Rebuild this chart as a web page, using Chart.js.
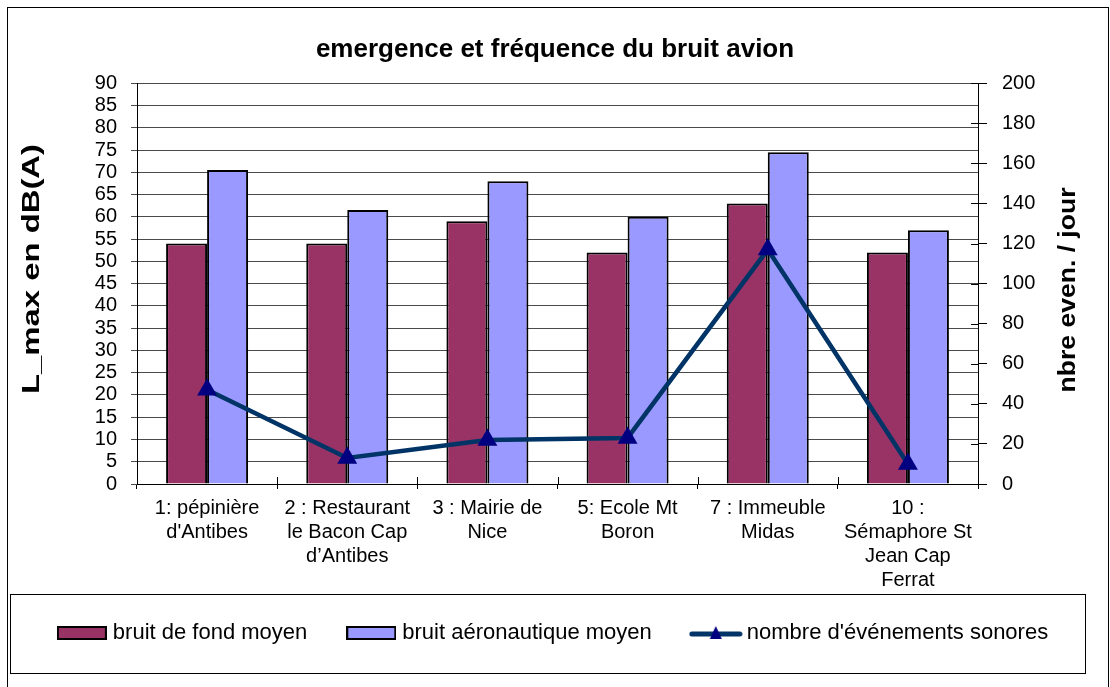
<!DOCTYPE html>
<html>
<head>
<meta charset="utf-8">
<script src="https://cdn.jsdelivr.net/npm/chart.js@4/dist/chart.umd.min.js"></script>
<style>
html,body{margin:0;padding:0;background:#fff;}
#wrap{width:1110px;height:687px;position:relative;}
canvas{display:block;}
</style>
</head>
<body>
<div id="wrap"><canvas id="c" width="1110" height="687"></canvas></div>
<script>
// ---- data ----
const categories = [
  ["1: pépinière", "d'Antibes"],
  ["2 : Restaurant", "le Bacon Cap", "d’Antibes"],
  ["3 : Mairie de", "Nice"],
  ["5: Ecole Mt", "Boron"],
  ["7 : Immeuble", "Midas"],
  ["10 :", "Sémaphore St", "Jean Cap", "Ferrat"]
];
const bruitFondMoyen = [54, 54, 59, 52, 63, 52];
const bruitAeronautiqueMoyen = [70.5, 61.5, 68, 60, 74.5, 57];
const nombreEvenements = [47, 13, 22, 23, 117, 10];
const seriesNames = ["bruit de fond moyen", "bruit aéronautique moyen", "nombre d'événements sonores"];
const chartTitle = "emergence et fréquence du bruit avion";
const leftAxisTitle = "L_max en dB(A)";
const rightAxisTitle = "nbre even. / jour";
const leftAxisRange = {min: 0, max: 90, step: 5};
const rightAxisRange = {min: 0, max: 200, step: 20};

const FONT = "'Liberation Sans', Arial, Helvetica, sans-serif";
Chart.defaults.font.family = FONT;
Chart.defaults.color = '#000';

const COL_FOND = '#993366';
const COL_AERO = '#9999FF';
const COL_LINE = '#003366';
const COL_MARK = '#000080';

// legend swatches
function barSwatch(fill) {
  const c = document.createElement('canvas');
  c.width = 50; c.height = 14;
  const g = c.getContext('2d');
  g.fillStyle = fill; g.fillRect(1, 1, 48, 12);
  g.strokeStyle = '#000'; g.lineWidth = 2; g.strokeRect(1, 1, 48, 12);
  return c;
}
function lineSwatch() {
  const c = document.createElement('canvas');
  c.width = 54; c.height = 18;
  const g = c.getContext('2d');
  g.strokeStyle = COL_LINE; g.lineWidth = 5; g.lineCap = 'round';
  g.beginPath(); g.moveTo(3, 10); g.lineTo(51, 10); g.stroke();
  g.fillStyle = COL_MARK;
  g.beginPath(); g.moveTo(27, 2); g.lineTo(33, 15); g.lineTo(21, 15); g.closePath(); g.fill();
  return c;
}
const swatches = [barSwatch(COL_FOND), barSwatch(COL_AERO), lineSwatch()];

function drawStretchedVertical(ctx, text, cx, cy, font, targetLen) {
  ctx.save();
  ctx.font = font;
  ctx.fillStyle = '#000';
  ctx.textAlign = 'center';
  ctx.textBaseline = 'middle';
  const w = ctx.measureText(text).width;
  ctx.translate(cx, cy);
  ctx.rotate(-Math.PI / 2);
  ctx.scale(targetLen / w, 1);
  ctx.fillText(text, 0, 0);
  ctx.restore();
}

const decor = {
  id: 'decor',
  beforeDraw(chart) {
    const ctx = chart.ctx;
    ctx.save();
    ctx.fillStyle = '#fff';
    ctx.fillRect(0, 0, chart.width, chart.height);
    ctx.strokeStyle = '#000';
    ctx.lineWidth = 1;
    ctx.strokeRect(7.5, 7.5, 1101, 700);
    ctx.restore();
  },
  afterDraw(chart) {
    const ctx = chart.ctx;
    const ca = chart.chartArea;
    // legend frame
    const lg = chart.legend;
    ctx.save();
    ctx.strokeStyle = '#000';
    ctx.lineWidth = 1;
    ctx.strokeRect(10.5, Math.round(lg.top + 16) + 0.5, 1075, 79);
    // inward tick marks on right axis and x axis
    const y1 = chart.scales.y1;
    ctx.strokeStyle = '#000';
    ctx.beginPath();
    y1.ticks.forEach(t => {
      const py = Math.round(y1.getPixelForValue(t.value)) + 0.5;
      ctx.moveTo(ca.right - 7, py); ctx.lineTo(ca.right, py);
    });
    for (let i = 0; i <= categories.length; i++) {
      const px = Math.round(ca.left + (ca.right - ca.left) * i / categories.length) + 0.5;
      ctx.moveTo(px, ca.bottom - 7); ctx.lineTo(px, ca.bottom);
    }
    ctx.stroke();
    ctx.restore();
    // axis titles
    drawStretchedVertical(ctx, leftAxisTitle, 33, 269, "bold 23px " + FONT, 250);
    drawStretchedVertical(ctx, rightAxisTitle, 1068, 290, "bold 24px " + FONT, 205);
  }
};

new Chart(document.getElementById('c'), {
  type: 'bar',
  data: {
    labels: categories,
    datasets: [
      {
        label: seriesNames[0], data: bruitFondMoyen, yAxisID: 'y', order: 1,
        backgroundColor: COL_FOND, borderColor: '#000', borderWidth: 2,
        categoryPercentage: 0.585, barPercentage: 1.0
      },
      {
        label: seriesNames[1], data: bruitAeronautiqueMoyen, yAxisID: 'y', order: 1,
        backgroundColor: COL_AERO, borderColor: '#000', borderWidth: 2,
        categoryPercentage: 0.585, barPercentage: 1.0
      },
      {
        type: 'line', label: seriesNames[2], data: nombreEvenements, yAxisID: 'y1', order: 0,
        borderColor: COL_LINE, borderWidth: 4.5, tension: 0, fill: false,
        pointStyle: 'triangle', pointRadius: 11.5, pointHoverRadius: 11.5,
        pointBackgroundColor: COL_MARK, pointBorderColor: COL_MARK, pointBorderWidth: 0
      }
    ]
  },
  options: {
    responsive: false,
    animation: false,
    devicePixelRatio: 1,
    events: [],
    layout: {padding: {left: 10, right: 10, top: 0, bottom: 33}},
    plugins: {
      tooltip: {enabled: false},
      title: {
        display: true, text: chartTitle, color: '#000',
        font: {size: 26, weight: 'bold'},
        padding: {top: 34, bottom: 18}
      },
      legend: {
        position: 'bottom',
        labels: {
          usePointStyle: true,
          pointStyleWidth: 40,
          padding: 44,
          color: '#000',
          font: {size: 22},
          generateLabels: (chart) => chart.data.datasets.map((ds, i) => ({
            text: ds.label, pointStyle: swatches[i], datasetIndex: i,
            fillStyle: 'rgba(0,0,0,0)', strokeStyle: 'rgba(0,0,0,0)', lineWidth: 0,
            hidden: false, fontColor: '#000'
          }))
        }
      }
    },
    scales: {
      x: {
        grid: {offset: true, drawOnChartArea: false, drawTicks: true, tickLength: 5, color: '#000', lineWidth: 1},
        border: {display: true, color: '#000', width: 1},
        ticks: {font: {size: 20, lineHeight: 1.2}, padding: 7, maxRotation: 0, minRotation: 0, autoSkip: false, color: '#000'},
        afterFit: (s) => { s.height = 94; s._computeLabelArea = () => undefined; }
      },
      y: {
        position: 'left',
        min: leftAxisRange.min, max: leftAxisRange.max,
        ticks: {stepSize: leftAxisRange.step, autoSkip: false, font: {size: 20, lineHeight: 1}, padding: 14, color: '#000'},
        grid: {color: '#4a4a4a', lineWidth: 1, tickLength: 6, drawTicks: true},
        border: {display: true, color: '#000', width: 1},
        afterFit: (s) => { s.width = 127; }
      },
      y1: {
        position: 'right',
        min: rightAxisRange.min, max: rightAxisRange.max,
        ticks: {stepSize: rightAxisRange.step, autoSkip: false, font: {size: 20, lineHeight: 1}, padding: 15, color: '#000'},
        grid: {drawOnChartArea: false, drawTicks: true, tickLength: 9, color: '#000'},
        border: {display: true, color: '#000', width: 1},
        afterFit: (s) => { s.width = 122; }
      }
    }
  },
  plugins: [decor]
});
</script>
</body>
</html>
